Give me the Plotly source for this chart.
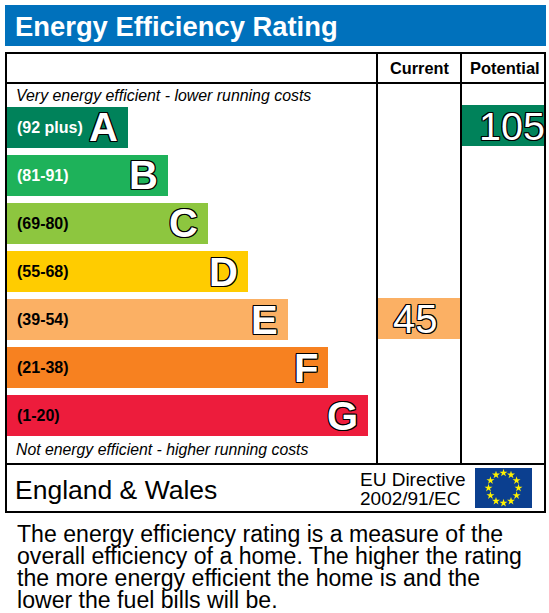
import plotly.graph_objects as go

W, H = 549, 613

# Data
band_letters = ['A', 'B', 'C', 'D', 'E', 'F', 'G']
band_ranges = ['(92 plus)', '(81-91)', '(69-80)', '(55-68)', '(39-54)', '(21-38)', '(1-20)']
band_lengths = [121, 161, 201, 241, 281, 321, 361]
band_colors = ['#00825A', '#1EB25A', '#8DC63F', '#FFCC00', '#FBB064', '#F78120', '#ED1C3C']
range_colors = ['white', 'white', 'black', 'black', 'black', 'black', 'black']
current_value = 45
current_band = 'E'
potential_value = 105
potential_band = 'A'
star_x = [0, 0.5, 0.87, 1, 0.87, 0.5, 0, -0.5, -0.87, -1, -0.87, -0.5]
star_y = [1, 0.87, 0.5, 0, -0.5, -0.87, -1, -0.87, -0.5, 0, 0.5, 0.87]
paragraph_lines = [
    'The energy efficiency rating is a measure of the',
    'overall efficiency of a home. The higher the rating',
    'the more energy efficient the home is and the',
    'lower the fuel bills will be.',
]

FONT = 'Liberation Sans'
OUTLINE = '-1px 0 #000, 1px 0 #000, 0 -1px #000, 0 1px #000, -1px -1px #000, 1px 1px #000, -1px 1px #000, 1px -1px #000'


def px(x):
    return x / W


def py(y):
    return 1 - y / H


def rect(x0, y0, x1, y1, color):
    return dict(type='rect', xref='paper', yref='paper', x0=px(x0), x1=px(x1), y0=py(y0), y1=py(y1),
                fillcolor=color, line=dict(width=0), layer='below')


def text(x, y, s, size, color='black', anchor='left', bold=False, italic=False):
    return dict(xref='paper', yref='paper', x=px(x), y=py(y), text=s, showarrow=False,
                xanchor=anchor, yanchor='middle',
                font=dict(family=FONT, size=size, color=color,
                          weight='bold' if bold else 'normal',
                          style='italic' if italic else 'normal'))


fig = go.Figure()

# Rating bands
fig.add_trace(go.Bar(x=band_lengths, y=band_letters, orientation='h', marker=dict(color=band_colors, line=dict(width=0)),
                     xaxis='x', yaxis='y', hoverinfo='skip'))
# Current and potential columns
fig.add_trace(go.Bar(x=[1], y=[current_band], orientation='h', marker=dict(color=band_colors[band_letters.index(current_band)], line=dict(width=0)),
                     xaxis='x2', yaxis='y2', hoverinfo='skip'))
fig.add_trace(go.Bar(x=[1], y=[potential_band], orientation='h', marker=dict(color=band_colors[band_letters.index(potential_band)], line=dict(width=0)),
                     xaxis='x3', yaxis='y3', hoverinfo='skip'))
# EU flag stars
fig.add_trace(go.Scatter(x=star_x, y=star_y, mode='markers', xaxis='x4', yaxis='y4', hoverinfo='skip',
                         marker=dict(symbol='star', size=6, color='#FFF200', line=dict(width=0))))

annotations = []
for letter, label, length, col in zip(band_letters, band_ranges, band_lengths, range_colors):
    annotations.append(dict(xref='x', yref='y', x=0, y=letter, text=label, showarrow=False, xanchor='left', xshift=8,
                            font=dict(family=FONT, size=16, color=col, weight='bold')))
    annotations.append(dict(xref='x', yref='y', x=length, y=letter, text=letter, showarrow=False, xanchor='right', xshift=-8,
                            font=dict(family=FONT, size=40, color='white', weight='bold', shadow=OUTLINE)))
annotations.append(dict(xref='x2', yref='y2', x=0.46, y=current_band, text=str(current_value), showarrow=False,
                        font=dict(family=FONT, size=40, color='white', shadow=OUTLINE)))
annotations.append(dict(xref='x3', yref='y3', x=1, y=potential_band, text=str(potential_value), showarrow=False, xanchor='right', xshift=3,
                        font=dict(family=FONT, size=39.5, color='white', shadow=OUTLINE)))

annotations += [
    text(13, 26, 'Energy Efficiency Rating', 27.4, 'white', bold=True),
    text(419, 68, 'Current', 16.3, anchor='center', bold=True),
    text(505, 68, 'Potential', 16.5, anchor='center', bold=True),
    text(14, 96, 'Very energy efficient - lower running costs', 15.9, italic=True),
    text(14, 449.5, 'Not energy efficient - higher running costs', 15.8, italic=True),
    text(13, 490, 'England &amp; Wales', 26.5),
    text(358, 479, 'EU Directive', 19),
    text(358, 498, '2002/91/EC', 19),
]
for i, line in enumerate(paragraph_lines):
    annotations.append(text(15, 534 + i * 22, line, 23.1))

line_color = 'black'
shapes = [
    rect(5, 5, 546, 46, '#0071BC'),
    rect(475, 468, 532, 508, '#0B3F8F'),
    rect(5, 52, 546, 54, line_color),
    rect(5, 82, 546, 84, line_color),
    rect(5, 463, 546, 465, line_color),
    rect(5, 511, 546, 513, line_color),
    rect(5, 52, 7, 513, line_color),
    rect(544, 52, 546, 513, line_color),
    rect(376, 52, 378, 465, line_color),
    rect(460, 52, 462, 465, line_color),
]

hidden = dict(visible=False, fixedrange=True)
category_axis = dict(type='category', categoryorder='array', categoryarray=band_letters, range=[6.5, -0.5], **hidden)
fig.update_layout(
    width=W, height=H, autosize=False,
    margin=dict(l=0, r=0, t=0, b=0, pad=0),
    paper_bgcolor='white', plot_bgcolor='rgba(0,0,0,0)',
    showlegend=False,
    barmode='overlay',
    bargap=0.146,
    xaxis=dict(domain=[px(7), px(376)], range=[0, 369], anchor='y', **hidden),
    xaxis2=dict(domain=[px(378), px(460)], range=[0, 1], anchor='y2', **hidden),
    xaxis3=dict(domain=[px(462), px(544)], range=[0, 1], anchor='y3', **hidden),
    xaxis4=dict(domain=[px(475), px(532)], range=[-1.9, 1.9], anchor='y4', **hidden),
    yaxis=dict(domain=[py(439.5), py(103.5)], anchor='x', **category_axis),
    # the two value boxes sit slightly above their bands in the reference
    yaxis2=dict(domain=[py(438.5), py(102.5)], anchor='x2', **category_axis),
    yaxis3=dict(domain=[py(437.5), py(101.5)], anchor='x3', **category_axis),
    yaxis4=dict(domain=[py(508), py(468)], range=[-1.33, 1.33], anchor='x4', **hidden),
    annotations=annotations,
    shapes=shapes,
)

# the page's default body margin would shift everything by 8px
fig.write_html("out.html", config=dict(displayModeBar=False),
               post_script="document.body.style.margin='0';document.body.style.overflow='hidden';")
